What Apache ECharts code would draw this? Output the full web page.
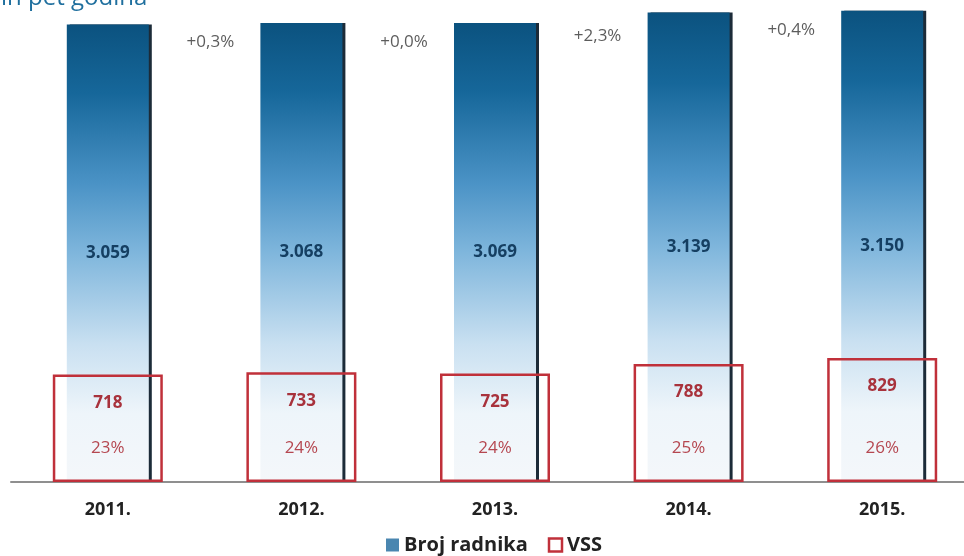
<!DOCTYPE html>
<html>
<head>
<meta charset="utf-8">
<script src="https://cdn.jsdelivr.net/npm/echarts@6/dist/echarts.min.js"></script>
<style>html,body{margin:0;padding:0;background:#fff}#c{width:964px;height:556px}</style>
</head>
<body>
<div id="c"></div>
<script>
const years = ['2011.', '2012.', '2013.', '2014.', '2015.'];
const brojRadnika = [3059, 3068, 3069, 3139, 3150];
const vss = [718, 733, 725, 788, 829];
const vssPct = ['23%', '24%', '24%', '25%', '26%'];
const growth = ['+0,3%', '+0,0%', '+2,3%', '+0,4%'];

const fmtThousands = v => {
  const s = String(v);
  return s.length > 3 ? s.slice(0, s.length - 3) + '.' + s.slice(-3) : s;
};

// growth labels placed at category boundaries, a little below the neighbouring bar tops
const growthData = growth.map((g, i) => [i + 1.03, (brojRadnika[i] + brojRadnika[i + 1]) / 2 - 125, g]);

const blueGrad = new echarts.graphic.LinearGradient(0, 0, 0, 1, [
  { offset: 0, color: '#0b527f' },
  { offset: 0.15, color: '#16679a' },
  { offset: 0.35, color: '#4b93c6' },
  { offset: 0.5, color: '#7fb6dc' },
  { offset: 0.7, color: '#c9e0f1' },
  { offset: 0.85, color: '#eef5fa' },
  { offset: 1, color: '#f4f7fa' }
]);

const chart = echarts.init(document.getElementById('c'));
chart.setOption({
  animation: false,
  backgroundColor: '#ffffff',
  title: {
    text: 'jih pet godina',
    left: -10,
    top: -19,
    textStyle: { color: '#1f6f9e', fontSize: 24, fontWeight: 'normal', fontFamily: 'Open Sans' }
  },
  legend: {
    left: 381,
    top: 530,
    itemGap: 20,
    itemWidth: 13,
    itemHeight: 13,
    textStyle: { fontFamily: 'Open Sans', fontWeight: 'bold', fontSize: 20, color: '#222' },
    data: [
      { name: 'Broj radnika', icon: 'rect', itemStyle: { color: '#4a86b0', borderWidth: 0 } },
      { name: 'VSS', icon: 'rect', itemStyle: { color: 'rgba(0,0,0,0)', borderColor: '#c0303a', borderWidth: 2.5 } }
    ]
  },
  grid: { left: 11, width: 968, top: 0, bottom: 74, outerBoundsMode: 'none', containLabel: false },
  xAxis: [
    {
      type: 'category',
      data: years,
      axisTick: { show: false },
      axisLine: { lineStyle: { color: '#8f8f8f', width: 2 } },
      axisLabel: { margin: 19, fontFamily: 'Open Sans', fontWeight: 'bold', fontSize: 18, color: '#222' }
    },
    { type: 'category', data: years, show: false },
    { type: 'value', min: 0, max: 5, show: false }
  ],
  yAxis: { type: 'value', min: 0, max: 3222, show: false, splitLine: { show: false } },
  series: [
    {
      name: 'Broj radnika',
      type: 'bar',
      xAxisIndex: 0,
      data: brojRadnika,
      barWidth: 82,
      itemStyle: { color: blueGrad, shadowColor: '#1c2b38', shadowOffsetX: 3, shadowBlur: 0 },
      label: {
        show: true,
        position: 'inside',
        formatter: p => fmtThousands(p.value),
        fontFamily: 'Open Sans',
        fontWeight: 'bold',
        fontSize: 17,
        color: '#153f62'
      },
      z: 2
    },
    {
      name: 'VSS',
      type: 'bar',
      xAxisIndex: 1,
      data: vss,
      barWidth: 110,
      itemStyle: { color: 'rgba(0,0,0,0)', borderColor: '#c0303a', borderWidth: 2.5 },
      label: {
        show: true,
        position: 'insideTop',
        distance: 20,
        fontFamily: 'Open Sans',
        fontWeight: 'bold',
        fontSize: 17,
        color: '#a8323c'
      },
      z: 3
    },
    {
      name: 'pct',
      type: 'bar',
      xAxisIndex: 1,
      data: vss,
      barWidth: 110,
      barGap: '-100%',
      itemStyle: { color: 'rgba(0,0,0,0)' },
      label: {
        show: true,
        position: 'insideBottom',
        distance: 25,
        formatter: p => vssPct[p.dataIndex],
        fontFamily: 'Open Sans',
        fontSize: 17,
        color: '#b54750'
      },
      z: 3
    },
    {
      name: 'growth',
      type: 'scatter',
      xAxisIndex: 2,
      data: growthData,
      symbolSize: 0,
      label: {
        show: true,
        position: 'inside',
        formatter: p => p.value[2],
        fontFamily: 'Open Sans',
        fontSize: 17,
        color: '#333'
      }
    }
  ]
});
</script>
</body>
</html>
